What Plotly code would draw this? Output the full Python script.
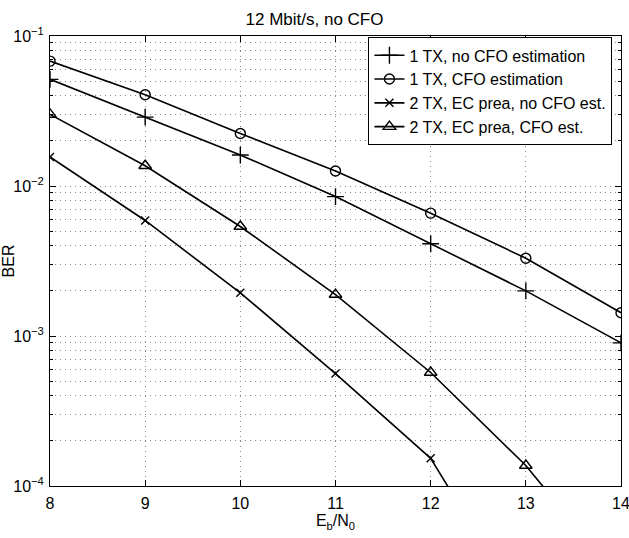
import plotly.graph_objects as go

# ---- data ----
ebn0 = [8, 9, 10, 11, 12, 13, 14]
ber_1tx_no_cfo = [0.0514, 0.0288, 0.0161, 0.0085, 0.00412, 0.0020, 0.00090]
ber_1tx_cfo = [0.068, 0.0406, 0.0224, 0.0126, 0.00659, 0.0033, 0.00143]
ber_2tx_no_cfo = [0.0156, 0.00589, 0.00194, 0.000562, 0.000153, 0.000014]
ber_2tx_cfo = [0.030, 0.01365, 0.00537, 0.00189, 0.000571, 0.000137, 0.000023]

names = ["1 TX, no CFO estimation", "1 TX, CFO estimation",
         "2 TX, EC prea, no CFO est.", "2 TX, EC prea, CFO est."]

y_tickvals = [1e-4, 1e-3, 1e-2, 1e-1]
y_ticktext = ["10<sup>−4</sup>", "10<sup>−3</sup>", "10<sup>−2</sup>", "10<sup>−1</sup>"]
y_minorvals = [k * 10.0 ** e for e in (-4, -3, -2) for k in range(2, 10)]
x_tickvals = [8, 9, 10, 11, 12, 13, 14]

FONT = "Liberation Sans, Arial, Helvetica, sans-serif"
GRIDCOLOR = "#8a8a8a"
GRIDDASH = "1px,4px"

fig = go.Figure()
series = [
    (ber_1tx_no_cfo, "cross-thin-open", 12),
    (ber_1tx_cfo, "circle-open", 10),
    (ber_2tx_no_cfo, "x-thin-open", 8),
    (ber_2tx_cfo, "triangle-up-open", 11),
]
for (vals, sym, sz), nm in zip(series, names):
    fig.add_trace(go.Scatter(
        x=ebn0[:len(vals)], y=vals, name=nm, mode="lines+markers",
        line=dict(color="black", width=1.6),
        marker=dict(symbol=sym, size=sz, color="black",
                    line=dict(color="black", width=1.4)),
        cliponaxis=True,
    ))

fig.update_layout(
    width=629, height=538,
    margin=dict(l=50, r=8, t=36, b=52),
    paper_bgcolor="white", plot_bgcolor="white",
    font=dict(family=FONT, size=16, color="black"),
    title=dict(text="12 Mbit/s, no CFO", x=0.5, xanchor="center",
               y=1 - 19 / 538, yref="container", yanchor="middle",
               font=dict(size=17)),
    showlegend=True,
    legend=dict(x=0.985, y=0.997, xanchor="right", yanchor="top",
                bgcolor="white", bordercolor="black", borderwidth=1,
                font=dict(size=16), tracegroupgap=0),
)
fig.update_xaxes(
    range=[8, 14], tickmode="array", tickvals=x_tickvals, automargin=False,
    ticks="inside", ticklen=6, tickcolor="black", ticklabelstandoff=3,
    ticklabeloverflow="allow",
    showline=True, linecolor="black", linewidth=1, mirror="ticks",
    title=dict(text="E<sub>b</sub>/N<sub>0</sub>", standoff=2, font=dict(size=16)),
    zeroline=False,
    showgrid=True, gridcolor=GRIDCOLOR, gridwidth=1, griddash=GRIDDASH,
)
fig.update_yaxes(
    type="log", range=[-4, -1], tickmode="array", automargin=False,
    tickvals=y_tickvals, ticktext=y_ticktext,
    ticks="inside", ticklen=6, tickcolor="black", ticklabelstandoff=2,
    ticklabeloverflow="allow",
    showline=True, linecolor="black", linewidth=1, mirror="ticks",
    title=dict(text="BER", standoff=0, font=dict(size=16)),
    zeroline=False,
    showgrid=True, gridcolor=GRIDCOLOR, gridwidth=1, griddash=GRIDDASH,
    minor=dict(tickmode="array", tickvals=y_minorvals, ticks="inside",
               ticklen=3, tickcolor="black", showgrid=True,
               gridcolor=GRIDCOLOR, gridwidth=1, griddash=GRIDDASH),
)

fig.write_html(
    "out.html",
    config={"displayModeBar": False},
    post_script="document.body.style.margin='0';document.body.style.overflow='hidden';",
)
